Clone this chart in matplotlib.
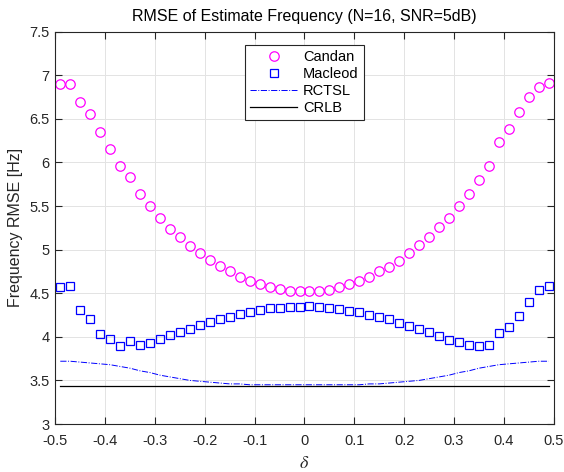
import numpy as np
import matplotlib
matplotlib.use("Agg")
import matplotlib.pyplot as plt

# sample positions of delta
delta = np.round(np.arange(-0.49, 0.50, 0.02), 2)

candan = [6.90, 6.90, 6.69, 6.56, 6.35, 6.16, 5.96, 5.83, 5.64, 5.50,
          5.36, 5.24, 5.14, 5.04, 4.96, 4.88, 4.81, 4.75, 4.69, 4.64,
          4.61, 4.57, 4.55, 4.53, 4.52, 4.53, 4.53, 4.54, 4.57, 4.61,
          4.64, 4.69, 4.75, 4.80, 4.87, 4.96, 5.05, 5.15, 5.26, 5.36,
          5.50, 5.64, 5.80, 5.96, 6.23, 6.38, 6.58, 6.75, 6.86, 6.91]

macleod = [4.57, 4.58, 4.31, 4.20, 4.03, 3.97, 3.90, 3.95, 3.91, 3.93,
           3.98, 4.02, 4.06, 4.09, 4.14, 4.17, 4.20, 4.23, 4.26, 4.28,
           4.31, 4.33, 4.33, 4.34, 4.34, 4.35, 4.34, 4.33, 4.32, 4.30,
           4.28, 4.25, 4.23, 4.20, 4.16, 4.12, 4.09, 4.05, 4.01, 3.96,
           3.94, 3.91, 3.90, 3.91, 4.04, 4.11, 4.24, 4.40, 4.54, 4.58]

rctsl = [3.72, 3.72, 3.71, 3.70, 3.69, 3.68, 3.66, 3.64, 3.61, 3.59,
         3.56, 3.54, 3.52, 3.50, 3.49, 3.48, 3.47, 3.46, 3.46, 3.45,
         3.45, 3.45, 3.45, 3.45, 3.45, 3.45, 3.45, 3.45, 3.45, 3.45,
         3.45, 3.46, 3.46, 3.47, 3.48, 3.49, 3.50, 3.52, 3.54, 3.56,
         3.59, 3.61, 3.64, 3.66, 3.68, 3.69, 3.70, 3.71, 3.72, 3.72]

crlb_level = 3.44
crlb = [crlb_level] * len(delta)

xticks = [-0.5, -0.4, -0.3, -0.2, -0.1, 0, 0.1, 0.2, 0.3, 0.4, 0.5]
xticklabels = ["-0.5", "-0.4", "-0.3", "-0.2", "-0.1", "0", "0.1", "0.2", "0.3", "0.4", "0.5"]
yticks = [3, 3.5, 4, 4.5, 5, 5.5, 6, 6.5, 7, 7.5]
yticklabels = ["3", "3.5", "4", "4.5", "5", "5.5", "6", "6.5", "7", "7.5"]

plt.rcParams["font.family"] = ["Liberation Sans", "DejaVu Sans"]
plt.rcParams["mathtext.fontset"] = "stix"

fig = plt.figure(figsize=(5.64, 4.72), dpi=100)
ax = fig.add_axes([55.3 / 564, 1 - 424 / 472, 498.4 / 564, 392.3 / 472])

ax.plot(delta, candan, linestyle="none", marker="o", markersize=6.8,
        markerfacecolor="none", markeredgecolor="#ff00ff", markeredgewidth=0.9, label="Candan")
ax.plot(delta, macleod, linestyle="none", marker="s", markersize=6.0,
        markerfacecolor="none", markeredgecolor="#0000ff", markeredgewidth=0.9, label="Macleod")
ax.plot(delta, rctsl, linestyle="-.", color="#0000ff", linewidth=0.7, label="RCTSL")
ax.plot(delta, crlb, linestyle="-", color="black", linewidth=0.9, label="CRLB")

ax.set_xlim(-0.5, 0.5)
ax.set_ylim(3, 7.5)
ax.set_xticks(xticks)
ax.set_xticklabels(xticklabels)
ax.set_yticks(yticks)
ax.set_yticklabels(yticklabels)
ax.grid(True, color="#e3e3e3", linewidth=0.7)
ax.set_axisbelow(True)
ax.tick_params(direction="in", length=5, width=0.8, top=True, right=True,
               labelsize=10.5, colors="#262626")
ax.tick_params(axis="x", pad=7)
ax.tick_params(axis="y", pad=4)
for sp in ax.spines.values():
    sp.set_color("#262626")
    sp.set_linewidth(0.8)

ax.set_title("RMSE of Estimate Frequency (N=16, SNR=5dB)", fontsize=11.5, color="black", pad=8)
ax.set_ylabel("Frequency RMSE [Hz]", fontsize=11.5, color="#262626", labelpad=5)
ax.set_xlabel(r"$\delta$", fontsize=13, color="#262626", labelpad=5)

leg = ax.legend(loc="upper center", bbox_to_anchor=(0.5, 0.966), borderaxespad=0,
                fontsize=10.5, frameon=True, fancybox=False, edgecolor="#262626",
                framealpha=1, handlelength=3.2, borderpad=0.35, labelspacing=0.2,
                handletextpad=0.4)
leg.get_frame().set_linewidth(0.8)

fig.savefig("out.png", dpi=100)
